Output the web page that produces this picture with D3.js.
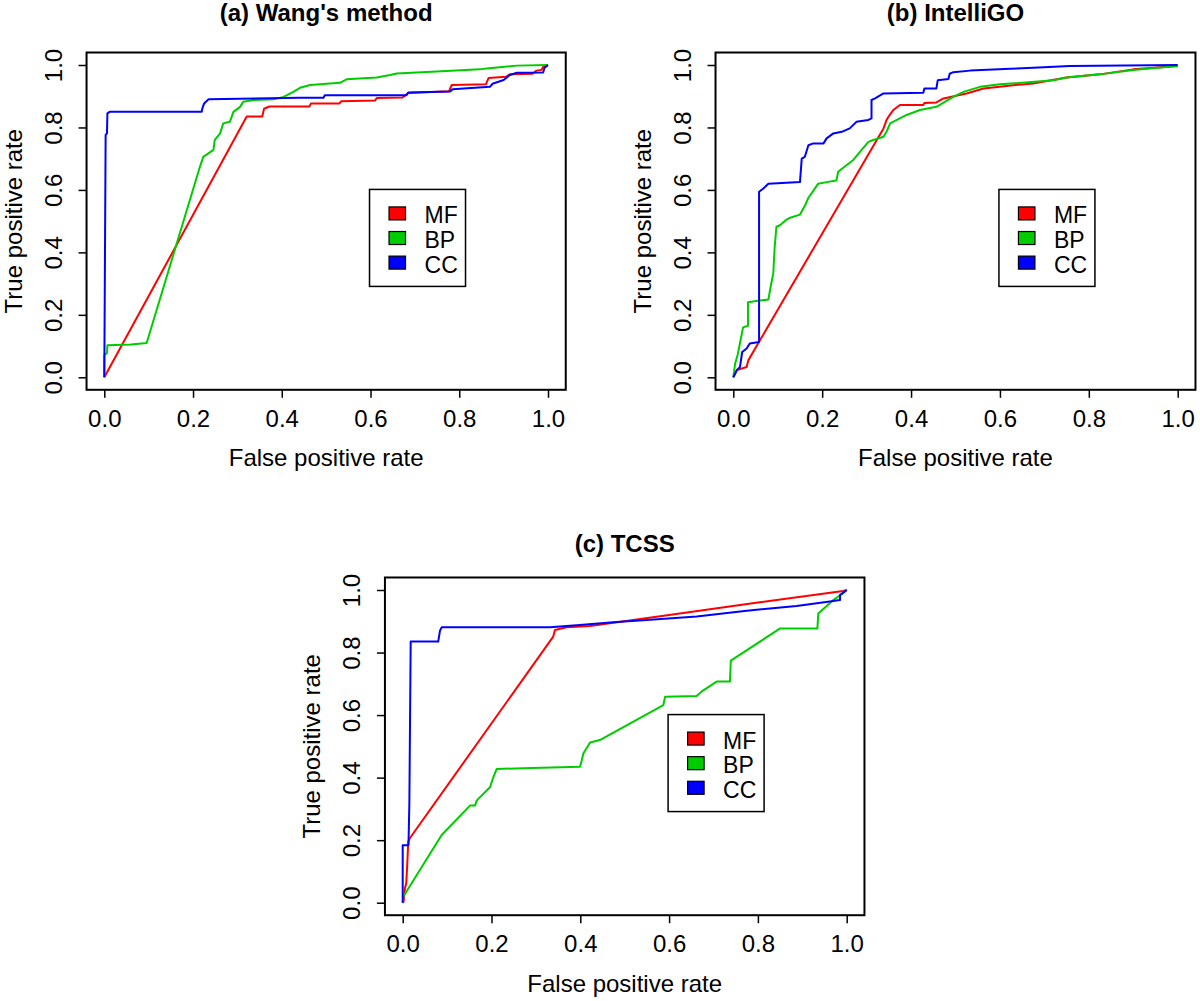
<!DOCTYPE html>
<html><head><meta charset="utf-8">
<script src="https://cdn.jsdelivr.net/npm/d3@7"></script>
<style>body{margin:0;background:#fff}</style>
</head><body><svg id="chart" width="1200" height="1001"></svg>
<script>
// ---------- data ----------
const tickValues = [0, 0.2, 0.4, 0.6, 0.8, 1.0];
const seriesNames = ["MF", "BP", "CC"];
const panelTitles = ["(a) Wang's method", "(b) IntelliGO", "(c) TCSS"];
const xTitle = "False positive rate";
const yTitle = "True positive rate";

const wangMF = [[0,0],[0.321,0.835],[0.356,0.835],[0.36,0.86],[0.372,0.867],[0.462,0.867],[0.466,0.877],[0.53,0.877],[0.534,0.884],[0.61,0.886],[0.614,0.894],[0.672,0.896],[0.685,0.91],[0.777,0.916],[0.783,0.936],[0.86,0.938],[0.866,0.958],[0.905,0.962],[0.914,0.97],[0.965,0.972],[0.974,0.982],[0.985,0.984],[0.99,0.996],[1,1]];
const wangBP = [[0,0],[0,0.071],[0.006,0.078],[0.007,0.103],[0.06,0.105],[0.0955,0.11],[0.2155,0.674],[0.223,0.706],[0.246,0.728],[0.249,0.76],[0.261,0.781],[0.268,0.813],[0.283,0.818],[0.291,0.85],[0.306,0.866],[0.313,0.882],[0.336,0.888],[0.381,0.89],[0.404,0.898],[0.426,0.914],[0.441,0.927],[0.464,0.936],[0.531,0.943],[0.546,0.954],[0.614,0.96],[0.644,0.968],[0.659,0.973],[0.771,0.981],[0.846,0.986],[0.862,0.989],[0.929,0.998],[1,1]];
const wangCC = [[0,0],[0.003,0.776],[0.006,0.781],[0.007,0.845],[0.012,0.85],[0.2195,0.85],[0.221,0.861],[0.225,0.877],[0.235,0.89],[0.44,0.895],[0.494,0.895],[0.497,0.903],[0.681,0.903],[0.685,0.912],[0.779,0.915],[0.785,0.922],[0.869,0.93],[0.875,0.94],[0.9,0.952],[0.914,0.968],[0.93,0.975],[0.989,0.976],[0.992,0.99],[1,1]];

const intelliMF = [[0,0],[0.008,0.023],[0.03,0.033],[0.034,0.055],[0.338,0.797],[0.345,0.824],[0.349,0.834],[0.36,0.856],[0.375,0.872],[0.4275,0.872],[0.43,0.878],[0.457,0.88],[0.473,0.893],[0.525,0.909],[0.563,0.925],[0.615,0.933],[0.675,0.941],[0.75,0.96],[0.825,0.97],[0.9,0.986],[1,0.997]];
const intelliBP = [[0,0],[0.004,0.043],[0.01,0.073],[0.022,0.16],[0.033,0.165],[0.033,0.24],[0.052,0.244],[0.079,0.249],[0.083,0.282],[0.09,0.333],[0.093,0.415],[0.097,0.482],[0.105,0.487],[0.118,0.503],[0.128,0.511],[0.15,0.521],[0.161,0.549],[0.169,0.575],[0.18,0.597],[0.191,0.62],[0.21,0.625],[0.232,0.63],[0.236,0.658],[0.251,0.675],[0.27,0.696],[0.285,0.722],[0.304,0.754],[0.315,0.76],[0.338,0.77],[0.345,0.787],[0.353,0.813],[0.368,0.824],[0.39,0.84],[0.42,0.856],[0.457,0.866],[0.495,0.898],[0.518,0.914],[0.555,0.93],[0.6,0.938],[0.72,0.951],[0.75,0.96],[0.825,0.97],[0.9,0.984],[1,0.997]];
const intelliCC = [[0,0],[0.008,0.023],[0.015,0.033],[0.02,0.081],[0.03,0.092],[0.037,0.108],[0.058,0.113],[0.058,0.594],[0.067,0.604],[0.079,0.62],[0.15,0.625],[0.154,0.7],[0.161,0.706],[0.169,0.743],[0.18,0.749],[0.203,0.749],[0.21,0.765],[0.225,0.781],[0.244,0.786],[0.262,0.797],[0.277,0.818],[0.304,0.824],[0.311,0.829],[0.311,0.888],[0.319,0.893],[0.338,0.909],[0.4275,0.911],[0.43,0.925],[0.457,0.925],[0.46,0.951],[0.484,0.955],[0.487,0.972],[0.495,0.977],[0.533,0.982],[0.623,0.988],[0.675,0.991],[0.757,0.997],[1,1]];

const tcssMF = [[0,0],[0.002,0.003],[0.005,0.046],[0.008,0.062],[0.01,0.115],[0.0125,0.195],[0.016,0.206],[0.339,0.851],[0.343,0.872],[0.369,0.881],[0.422,0.885],[0.6,0.92],[0.8,0.96],[0.992,0.997],[1,1]];
const tcssBP = [[0,0],[0.0015,0.02],[0.0878,0.2165],[0.1515,0.3105],[0.163,0.3105],[0.1665,0.3265],[0.1965,0.369],[0.204,0.401],[0.2115,0.4275],[0.271,0.43],[0.3993,0.435],[0.403,0.4537],[0.4068,0.4771],[0.422,0.5125],[0.444,0.52],[0.587,0.632],[0.591,0.659],[0.662,0.661],[0.673,0.675],[0.707,0.707],[0.737,0.707],[0.739,0.774],[0.85,0.877],[0.934,0.877],[0.936,0.925],[0.97,0.968],[0.992,0.99],[1,1]];
const tcssCC = [[0,0],[0,0.184],[0.013,0.184],[0.015,0.318],[0.018,0.835],[0.08,0.835],[0.084,0.87],[0.088,0.881],[0.332,0.881],[0.399,0.888],[0.474,0.897],[0.55,0.904],[0.662,0.915],[0.775,0.934],[0.887,0.949],[0.962,0.963],[0.985,0.968],[0.985,0.984],[1,1]];

const legendAnchor = [0.6, 0.6];

// ---------- layout / style ----------
const colors = ["#FF0000", "#00CD00", "#0000FF"];
const FONT = "'Liberation Sans', Arial, Helvetica, sans-serif";
const panels = [
  {title: panelTitles[0], series: [wangMF, wangBP, wangCC], xr: [104.3, 548], yr: [377.3, 65], titleY: 20.5},
  {title: panelTitles[1], series: [intelliMF, intelliBP, intelliCC], xr: [733.3, 1177.7], yr: [377.3, 65], titleY: 20.5},
  {title: panelTitles[2], series: [tcssMF, tcssBP, tcssCC], xr: [402.7, 846.7], yr: [902.7, 590], titleY: 551.5}
];

const svg = d3.select("#chart");
svg.append("rect").attr("width", 1200).attr("height", 1001).attr("fill", "#fff");

panels.forEach(p => {
  const x = d3.scaleLinear().domain([0, 1]).range(p.xr);
  const y = d3.scaleLinear().domain([0, 1]).range(p.yr);
  const g = svg.append("g");
  const bl = x(-0.04), br = x(1.04), bt = y(1.04), bb = y(-0.04);
  const cx = (bl + br) / 2, cy = (bt + bb) / 2;

  // curves
  const line = d3.line().x(d => x(d[0])).y(d => y(d[1]));
  p.series.forEach((s, i) => {
    g.append("path").datum(s).attr("d", line)
      .attr("fill", "none").attr("stroke", colors[i])
      .attr("stroke-width", 2).attr("stroke-linejoin", "round");
  });

  // box
  g.append("rect").attr("x", bl).attr("y", bt).attr("width", br - bl).attr("height", bb - bt)
    .attr("fill", "none").attr("stroke", "#000").attr("stroke-width", 2);

  // x axis
  const xa = g.append("g").attr("transform", `translate(0,${bb})`)
    .call(d3.axisBottom(x).tickValues(tickValues).tickSize(8).tickFormat(d3.format(".1f")));
  xa.select(".domain").remove();
  xa.attr("font-family", FONT).attr("font-size", 24);
  xa.selectAll(".tick line").attr("stroke", "#000").attr("stroke-width", 1.5);
  xa.selectAll(".tick text").attr("y", 37).attr("dy", null).attr("fill", "#000");

  // y axis
  const ya = g.append("g").attr("transform", `translate(${bl},0)`)
    .call(d3.axisLeft(y).tickValues(tickValues).tickSize(8).tickFormat(d3.format(".1f")));
  ya.select(".domain").remove();
  ya.attr("font-family", FONT).attr("font-size", 24);
  ya.selectAll(".tick line").attr("stroke", "#000").attr("stroke-width", 1.5);
  ya.selectAll(".tick text").attr("x", null).attr("dy", null).attr("fill", "#000")
    .attr("text-anchor", "middle").attr("transform", "translate(-25,0) rotate(-90)");

  // titles
  g.append("text").attr("x", cx).attr("y", p.titleY).attr("text-anchor", "middle")
    .attr("font-family", FONT).attr("font-size", 24).attr("font-weight", "bold").text(p.title);
  g.append("text").attr("x", cx).attr("y", bb + 76.5).attr("text-anchor", "middle")
    .attr("font-family", FONT).attr("font-size", 24).text(xTitle);
  g.append("text").attr("transform", `translate(${bl - 65},${cy}) rotate(-90)`).attr("text-anchor", "middle")
    .attr("font-family", FONT).attr("font-size", 24).text(yTitle);

  // legend
  const lx = x(legendAnchor[0]) - 1, ly = y(legendAnchor[1]) - 0.5;
  const lg = g.append("g").attr("transform", `translate(${lx},${ly})`);
  lg.append("rect").attr("width", 96).attr("height", 97).attr("fill", "#fff")
    .attr("stroke", "#000").attr("stroke-width", 1.5);
  seriesNames.forEach((n, i) => {
    lg.append("rect").attr("x", 19.5).attr("y", 17.5 + i * 24.6).attr("width", 16.5).attr("height", 13)
      .attr("fill", colors[i]).attr("stroke", "#000").attr("stroke-width", 1.2);
    lg.append("text").attr("x", 55).attr("y", 34 + i * 24.6)
      .attr("font-family", FONT).attr("font-size", 23).text(n);
  });
});
</script></body></html>
